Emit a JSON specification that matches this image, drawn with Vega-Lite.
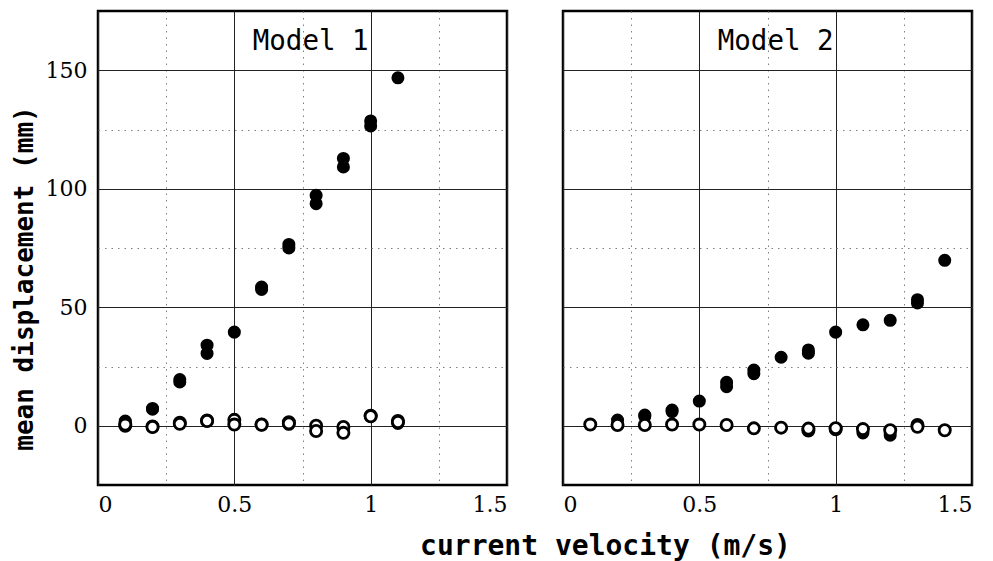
{
  "$schema": "https://vega.github.io/schema/vega-lite/v6.json",
  "padding": {"left": 9, "top": 9, "right": 5, "bottom": 5},
  "bounds": "flush",
  "spacing": 56,
  "config": {
    "view": {"stroke": "black", "strokeWidth": 2.5},
    "axis": {
      "ticks": false,
      "domain": false,
      "gridWidth": 1,
      "labelFont": "'DejaVu Serif', 'Liberation Serif', serif",
      "labelFontSize": 22,
      "labelColor": "black",
      "titleFont": "'DejaVu Sans Mono', monospace",
      "titleFontWeight": "bold",
      "titleColor": "black",
      "labelOverlap": false,
      "labelBound": false
    }
  },
  "datasets": {
    "obs": [
      {"model": "Model 1", "v": 0.1, "d": 2.0, "kind": "filled"},
      {"model": "Model 1", "v": 0.1, "d": 1.6, "kind": "filled"},
      {"model": "Model 1", "v": 0.2, "d": 7.0, "kind": "filled"},
      {"model": "Model 1", "v": 0.2, "d": 7.3, "kind": "filled"},
      {"model": "Model 1", "v": 0.3, "d": 18.5, "kind": "filled"},
      {"model": "Model 1", "v": 0.3, "d": 19.5, "kind": "filled"},
      {"model": "Model 1", "v": 0.4, "d": 30.5, "kind": "filled"},
      {"model": "Model 1", "v": 0.4, "d": 34.0, "kind": "filled"},
      {"model": "Model 1", "v": 0.5, "d": 39.5, "kind": "filled"},
      {"model": "Model 1", "v": 0.6, "d": 57.5, "kind": "filled"},
      {"model": "Model 1", "v": 0.6, "d": 58.5, "kind": "filled"},
      {"model": "Model 1", "v": 0.7, "d": 75.0, "kind": "filled"},
      {"model": "Model 1", "v": 0.7, "d": 76.5, "kind": "filled"},
      {"model": "Model 1", "v": 0.8, "d": 93.7, "kind": "filled"},
      {"model": "Model 1", "v": 0.8, "d": 97.2, "kind": "filled"},
      {"model": "Model 1", "v": 0.9, "d": 109.2, "kind": "filled"},
      {"model": "Model 1", "v": 0.9, "d": 112.8, "kind": "filled"},
      {"model": "Model 1", "v": 1.0, "d": 126.5, "kind": "filled"},
      {"model": "Model 1", "v": 1.0, "d": 128.6, "kind": "filled"},
      {"model": "Model 1", "v": 1.1, "d": 146.8, "kind": "filled"},
      {"model": "Model 1", "v": 0.7, "d": 0.6, "kind": "filled"},
      {"model": "Model 1", "v": 1.1, "d": 1.0, "kind": "filled"},
      {"model": "Model 1", "v": 0.1, "d": 0.0, "kind": "open"},
      {"model": "Model 1", "v": 0.1, "d": 0.5, "kind": "open"},
      {"model": "Model 1", "v": 0.2, "d": -0.3, "kind": "open"},
      {"model": "Model 1", "v": 0.2, "d": -0.5, "kind": "open"},
      {"model": "Model 1", "v": 0.3, "d": 1.3, "kind": "open"},
      {"model": "Model 1", "v": 0.3, "d": 0.8, "kind": "open"},
      {"model": "Model 1", "v": 0.4, "d": 2.2, "kind": "open"},
      {"model": "Model 1", "v": 0.4, "d": 2.0, "kind": "open"},
      {"model": "Model 1", "v": 0.5, "d": 2.5, "kind": "open"},
      {"model": "Model 1", "v": 0.5, "d": 0.5, "kind": "open"},
      {"model": "Model 1", "v": 0.6, "d": 0.5, "kind": "open"},
      {"model": "Model 1", "v": 0.6, "d": 0.4, "kind": "open"},
      {"model": "Model 1", "v": 0.7, "d": 1.5, "kind": "open"},
      {"model": "Model 1", "v": 0.7, "d": 1.0, "kind": "open"},
      {"model": "Model 1", "v": 0.8, "d": 0.0, "kind": "open"},
      {"model": "Model 1", "v": 0.8, "d": -2.2, "kind": "open"},
      {"model": "Model 1", "v": 0.9, "d": -0.5, "kind": "open"},
      {"model": "Model 1", "v": 0.9, "d": -3.0, "kind": "open"},
      {"model": "Model 1", "v": 1.0, "d": 4.2, "kind": "open"},
      {"model": "Model 1", "v": 1.0, "d": 4.0, "kind": "open"},
      {"model": "Model 1", "v": 1.1, "d": 2.0, "kind": "open"},
      {"model": "Model 1", "v": 1.1, "d": 1.6, "kind": "open"},
      {"model": "Model 2", "v": 0.2, "d": 2.4, "kind": "filled"},
      {"model": "Model 2", "v": 0.3, "d": 4.0, "kind": "filled"},
      {"model": "Model 2", "v": 0.3, "d": 4.5, "kind": "filled"},
      {"model": "Model 2", "v": 0.4, "d": 6.0, "kind": "filled"},
      {"model": "Model 2", "v": 0.4, "d": 6.6, "kind": "filled"},
      {"model": "Model 2", "v": 0.5, "d": 10.4, "kind": "filled"},
      {"model": "Model 2", "v": 0.6, "d": 16.5, "kind": "filled"},
      {"model": "Model 2", "v": 0.6, "d": 18.3, "kind": "filled"},
      {"model": "Model 2", "v": 0.7, "d": 22.0, "kind": "filled"},
      {"model": "Model 2", "v": 0.7, "d": 23.5, "kind": "filled"},
      {"model": "Model 2", "v": 0.8, "d": 28.9, "kind": "filled"},
      {"model": "Model 2", "v": 0.9, "d": 30.6, "kind": "filled"},
      {"model": "Model 2", "v": 0.9, "d": 32.0, "kind": "filled"},
      {"model": "Model 2", "v": 1.0, "d": 39.5, "kind": "filled"},
      {"model": "Model 2", "v": 1.1, "d": 42.6, "kind": "filled"},
      {"model": "Model 2", "v": 1.2, "d": 44.5, "kind": "filled"},
      {"model": "Model 2", "v": 1.3, "d": 51.8, "kind": "filled"},
      {"model": "Model 2", "v": 1.3, "d": 53.2, "kind": "filled"},
      {"model": "Model 2", "v": 1.4, "d": 69.8, "kind": "filled"},
      {"model": "Model 2", "v": 1.1, "d": -3.0, "kind": "filled"},
      {"model": "Model 2", "v": 1.2, "d": -4.0, "kind": "filled"},
      {"model": "Model 2", "v": 0.1, "d": 0.5, "kind": "open"},
      {"model": "Model 2", "v": 0.2, "d": 0.3, "kind": "open"},
      {"model": "Model 2", "v": 0.3, "d": 0.3, "kind": "open"},
      {"model": "Model 2", "v": 0.4, "d": 0.5, "kind": "open"},
      {"model": "Model 2", "v": 0.5, "d": 0.5, "kind": "open"},
      {"model": "Model 2", "v": 0.6, "d": 0.3, "kind": "open"},
      {"model": "Model 2", "v": 0.7, "d": -1.1, "kind": "open"},
      {"model": "Model 2", "v": 0.8, "d": -0.8, "kind": "open"},
      {"model": "Model 2", "v": 0.9, "d": -2.0, "kind": "open"},
      {"model": "Model 2", "v": 0.9, "d": -1.2, "kind": "open"},
      {"model": "Model 2", "v": 1.0, "d": -1.5, "kind": "open"},
      {"model": "Model 2", "v": 1.0, "d": -1.0, "kind": "open"},
      {"model": "Model 2", "v": 1.1, "d": -1.4, "kind": "open"},
      {"model": "Model 2", "v": 1.2, "d": -1.9, "kind": "open"},
      {"model": "Model 2", "v": 1.3, "d": 0.3, "kind": "open"},
      {"model": "Model 2", "v": 1.3, "d": -0.4, "kind": "open"},
      {"model": "Model 2", "v": 1.4, "d": -1.9, "kind": "open"}
    ],
    "labels": [
      {"model": "Model 1", "v": 0.78, "d": 162},
      {"model": "Model 2", "v": 0.78, "d": 162}
    ]
  },
  "hconcat": [
    {
      "width": 409,
      "height": 474,
      "encoding": {
        "x": {
          "field": "v", "type": "quantitative",
          "scale": {"domain": [0, 1.5], "nice": false, "zero": false},
          "axis": {
            "values": [0, 0.25, 0.5, 0.75, 1, 1.25, 1.5],
            "format": "~g",
            "labelExpr": "(datum.value * 4) % 2 === 0 ? datum.label : ''",
            "gridDash": {"condition": {"test": "(datum.value * 4) % 2 === 1", "value": [1.5, 5]}, "value": []},
            "gridColor": {"condition": {"test": "(datum.value * 4) % 2 === 1", "value": "#808080"}, "value": "#222222"},
            "labelPadding": 9,
            "title": "current velocity (m/s)",
            "titleFontSize": 28,
            "titleX": 507,
            "titleY": 61,
            "titleAlign": "center",
            "titleBaseline": "middle"
          }
        },
        "y": {
          "field": "d", "type": "quantitative",
          "scale": {"domain": [-25, 175], "nice": false, "zero": false},
          "axis": {
            "values": [0, 25, 50, 75, 100, 125, 150],
            "labelExpr": "datum.value % 50 === 0 ? datum.label : ''",
            "gridDash": {"condition": {"test": "datum.value % 50 !== 0", "value": [1.5, 5]}, "value": []},
            "gridColor": {"condition": {"test": "datum.value % 50 !== 0", "value": "#808080"}, "value": "#222222"},
            "labelPadding": 11,
            "title": "mean displacement (mm)",
            "titleFontSize": 26,
            "titleX": -74,
            "titleY": 267,
            "titleAlign": "center",
            "titleBaseline": "middle",
            "titleAngle": -90
          }
        }
      },
      "layer": [
        {
          "data": {"name": "obs"},
          "transform": [{"filter": "datum.model === 'Model 1' && datum.kind === 'filled'"}],
          "mark": {"type": "point", "shape": "circle", "filled": true, "color": "black", "opacity": 1, "size": 170}
        },
        {
          "data": {"name": "obs"},
          "transform": [{"filter": "datum.model === 'Model 1' && datum.kind === 'open'"}],
          "mark": {"type": "point", "shape": "circle", "filled": true, "fill": "white", "stroke": "black", "strokeWidth": 2.8, "opacity": 1, "size": 125}
        },
        {
          "data": {"name": "labels"},
          "transform": [{"filter": "datum.model === 'Model 1'"}],
          "mark": {"type": "text", "font": "'DejaVu Sans Mono', monospace", "fontSize": 27.5, "color": "black", "align": "center", "baseline": "middle"},
          "encoding": {"text": {"field": "model"}}
        }
      ]
    },
    {
      "width": 409,
      "height": 474,
      "encoding": {
        "x": {
          "field": "v", "type": "quantitative",
          "scale": {"domain": [0, 1.5], "nice": false, "zero": false},
          "axis": {
            "values": [0, 0.25, 0.5, 0.75, 1, 1.25, 1.5],
            "format": "~g",
            "labelExpr": "(datum.value * 4) % 2 === 0 ? datum.label : ''",
            "gridDash": {"condition": {"test": "(datum.value * 4) % 2 === 1", "value": [1.5, 5]}, "value": []},
            "gridColor": {"condition": {"test": "(datum.value * 4) % 2 === 1", "value": "#808080"}, "value": "#222222"},
            "labelPadding": 9,
            "title": null
          }
        },
        "y": {
          "field": "d", "type": "quantitative",
          "scale": {"domain": [-25, 175], "nice": false, "zero": false},
          "axis": {
            "values": [0, 25, 50, 75, 100, 125, 150],
            "labels": false,
            "gridDash": {"condition": {"test": "datum.value % 50 !== 0", "value": [1.5, 5]}, "value": []},
            "gridColor": {"condition": {"test": "datum.value % 50 !== 0", "value": "#808080"}, "value": "#222222"},
            "title": null,
            "minExtent": 0,
            "maxExtent": 0
          }
        }
      },
      "layer": [
        {
          "data": {"name": "obs"},
          "transform": [{"filter": "datum.model === 'Model 2' && datum.kind === 'filled'"}],
          "mark": {"type": "point", "shape": "circle", "filled": true, "color": "black", "opacity": 1, "size": 170}
        },
        {
          "data": {"name": "obs"},
          "transform": [{"filter": "datum.model === 'Model 2' && datum.kind === 'open'"}],
          "mark": {"type": "point", "shape": "circle", "filled": true, "fill": "white", "stroke": "black", "strokeWidth": 2.8, "opacity": 1, "size": 125}
        },
        {
          "data": {"name": "labels"},
          "transform": [{"filter": "datum.model === 'Model 2'"}],
          "mark": {"type": "text", "font": "'DejaVu Sans Mono', monospace", "fontSize": 27.5, "color": "black", "align": "center", "baseline": "middle"},
          "encoding": {"text": {"field": "model"}}
        }
      ]
    }
  ]
}
